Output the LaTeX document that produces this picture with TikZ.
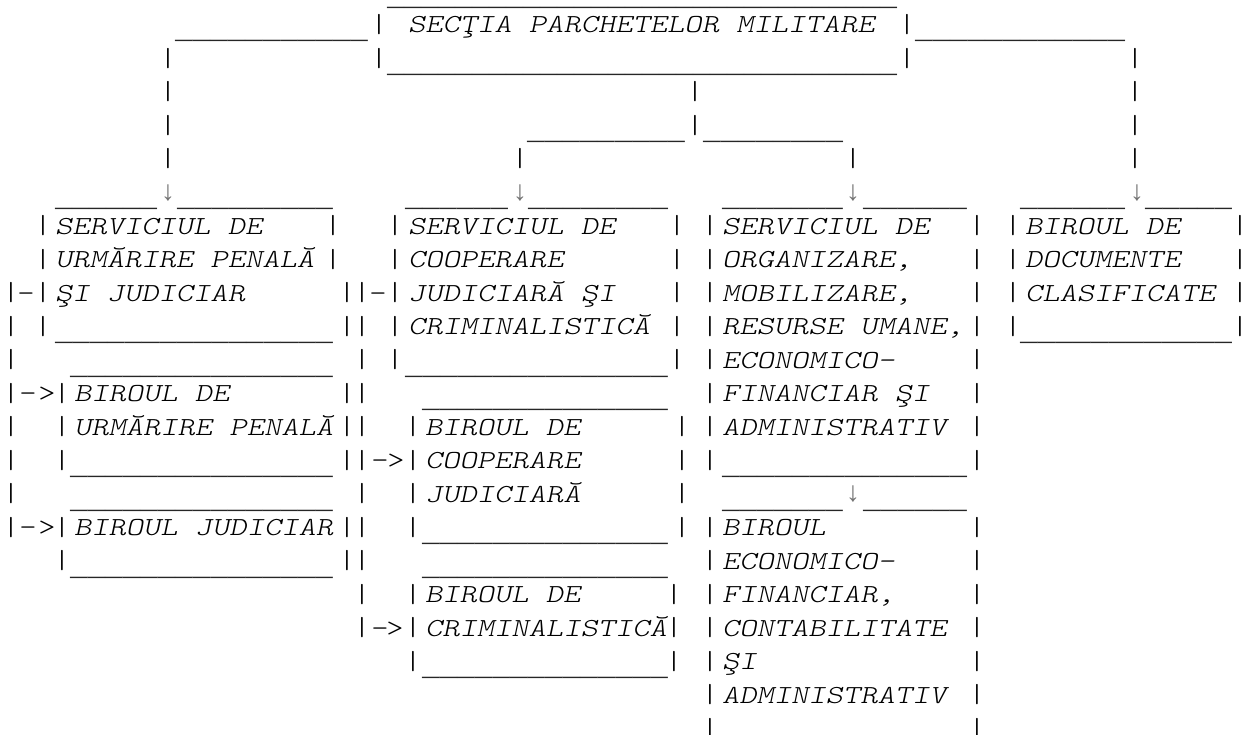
\documentclass[tikz,border=0pt]{standalone}
\usepackage{fontspec}
\usepackage{graphicx}
\newfontfamily\cour{lmmonolt10-regular.otf}[ItalicFont=lmmonolt10-oblique.otf, FakeStretch=1.266]
\newfontfamily\mono{Liberation Mono}
\newcounter{nd}
\ExplSyntaxOn
\cs_new:Npn \Us #1 { \prg_replicate:nn {#1} {\textunderscore} }
\ExplSyntaxOff
\tikzset{
  fr/.style={font=\cour\fontsize{26}{28}\selectfont, inner sep=0pt, outer sep=0pt, text=black},
  ul/.style={font=\mono\fontsize{28.8}{30}\selectfont, inner sep=0pt, outer sep=0pt, text=black!85},
  lab/.style={font=\cour\itshape\fontsize{26}{28}\selectfont, inner sep=0pt, outer sep=0pt, text=black},
  arr/.style={font=\mono\fontsize{28}{30}\selectfont, inner sep=0pt, outer sep=0pt, text=black!55},
}
% vertical bar centred at x in row r
\newcommand\myB[2]{\stepcounter{nd}\node[fr,anchor=center] (n\thend) at (#1,{-(33.5*#2-8.5)}) {|};}
% label starting at x in row r
\newcommand\myL[3]{\stepcounter{nd}\node[lab,anchor=base west] (n\thend) at (#1,{-(33.5*#2-0.5)}) {#3};}
% single frame character centred at x
\newcommand\myC[3]{\stepcounter{nd}\node[fr,anchor=base] (n\thend) at (#1,{-(33.5*#2-0.5)}) {#3};}
% run of n underscores from x1 to x2 in row r
\newcommand\myU[4]{\pgfmathsetmacro\usx{(#2-#1)/(#4*17.28)}\stepcounter{nd}\node[ul,anchor=base west] (n\thend) at (#1,{-(33.5*#3+5.5)}) {\scalebox{\usx}[1]{\Us{#4}}};}
% down arrow
\newcommand\myA[2]{\stepcounter{nd}\node[arr,anchor=center] (n\thend) at (#1,{-(33.5*#2-8)}) {↓};}
\begin{document}
\begin{tikzpicture}[x=1pt,y=1pt]
\useasboundingbox[fill=white] (0,0) rectangle (1246,-735);
% ---- top box
\myU{387}{897}{0}{30}
\myU{175}{368}{1}{11}
\myL{408}{1}{SECŢIA PARCHETELOR MILITARE}
\myU{915}{1125}{1}{12}
\myU{387}{897}{2}{30}
\foreach \x in {379,907} {\myB{\x}{1}}
\foreach \x in {168,379,907,1135} {\myB{\x}{2}}
\foreach \x in {168,695,1135} {\myB{\x}{3}}
\foreach \x in {168,695,1135} {\myB{\x}{4}}
\myU{527}{685}{4}{9}
\myU{703}{843}{4}{8}
\foreach \x in {168,520,853,1135} {\myB{\x}{5}}
% ---- row 6: box tops with arrows
\myU{55}{157}{6}{6}\myA{168}{6}\myU{177}{333}{6}{9}
\myU{405}{508}{6}{6}\myA{520}{6}\myU{528}{668}{6}{8}
\myU{722}{843}{6}{7}\myA{853}{6}\myU{863}{967}{6}{6}
\myU{1020}{1125}{6}{6}\myA{1137}{6}\myU{1145}{1232}{6}{5}
% ---- labels
\myL{55}{7}{SERVICIUL DE}
\myL{408}{7}{SERVICIUL DE}
\myL{722}{7}{SERVICIUL DE}
\myL{1025}{7}{BIROUL DE}
\myL{55}{8}{URMĂRIRE PENALĂ}
\myL{408}{8}{COOPERARE}
\myL{722}{8}{ORGANIZARE,}
\myL{1025}{8}{DOCUMENTE}
\myL{55}{9}{ŞI JUDICIAR}
\myL{408}{9}{JUDICIARĂ ŞI}
\myL{722}{9}{MOBILIZARE,}
\myL{1025}{9}{CLASIFICATE}
\myL{408}{10}{CRIMINALISTICĂ}
\myL{722}{10}{RESURSE UMANE,}
\myL{722}{11}{ECONOMICO-}
\myL{74}{12}{BIROUL DE}
\myL{722}{12}{FINANCIAR ŞI}
\myL{74}{13}{URMĂRIRE PENALĂ}
\myL{425}{13}{BIROUL DE}
\myL{722}{13}{ADMINISTRATIV}
\myL{425}{14}{COOPERARE}
\myL{425}{15}{JUDICIARĂ}
\myL{74}{16}{BIROUL JUDICIAR}
\myL{722}{16}{BIROUL}
\myL{722}{17}{ECONOMICO-}
\myL{425}{18}{BIROUL DE}
\myL{722}{18}{FINANCIAR,}
\myL{425}{19}{CRIMINALISTICĂ}
\myL{722}{19}{CONTABILITATE}
\myL{722}{20}{ŞI}
\myL{722}{21}{ADMINISTRATIV}
% ---- vertical bars of the boxes and lines
\foreach \x in {43,333,395,677,710,977,1013,1240} {\myB{\x}{7}\myB{\x}{8}}
\foreach \x in {11,43,347,362,395,677,710,977,1013,1240} {\myB{\x}{9}\myB{\x}{10}}
\foreach \x in {11,362,395,677,710,977} {\myB{\x}{11}}
\foreach \x in {11,62,347,362,710,977} {\myB{\x}{12}}
\foreach \x in {11,62,347,362,413,682,710,977} {\myB{\x}{13}\myB{\x}{14}\myB{\x}{16}}
\foreach \x in {11,362,413,682} {\myB{\x}{15}}
\foreach \x in {62,347,362,710,977} {\myB{\x}{17}}
\foreach \x in {362,413,674,710,977} {\myB{\x}{18}\myB{\x}{19}}
\foreach \x in {413,674,710,977} {\myB{\x}{20}}
\foreach \x in {710,977} {\myB{\x}{21}\myB{\x}{22}}
% ---- box bottoms / tops
\myU{55}{333}{10}{16}
\myU{1020}{1232}{10}{12}
\myU{70}{333}{11}{15}
\myU{405}{668}{11}{15}
\myU{422}{668}{12}{14}
\myU{70}{333}{14}{15}
\myU{722}{967}{14}{14}
\myU{70}{333}{15}{15}
\myU{722}{843}{15}{7}\myA{853}{15}\myU{863}{967}{15}{6}
\myU{422}{668}{16}{14}
\myU{70}{333}{17}{15}
\myU{422}{668}{17}{14}
\myU{422}{668}{20}{14}
% ---- dashes and arrow heads
\myC{26}{9}{-}\myC{378}{9}{-}
\myC{28}{12}{-}\myC{47}{12}{>}
\myC{380}{14}{-}\myC{396}{14}{>}
\myC{28}{16}{-}\myC{47}{16}{>}
\myC{380}{19}{-}\myC{395}{19}{>}
\end{tikzpicture}
\end{document}
